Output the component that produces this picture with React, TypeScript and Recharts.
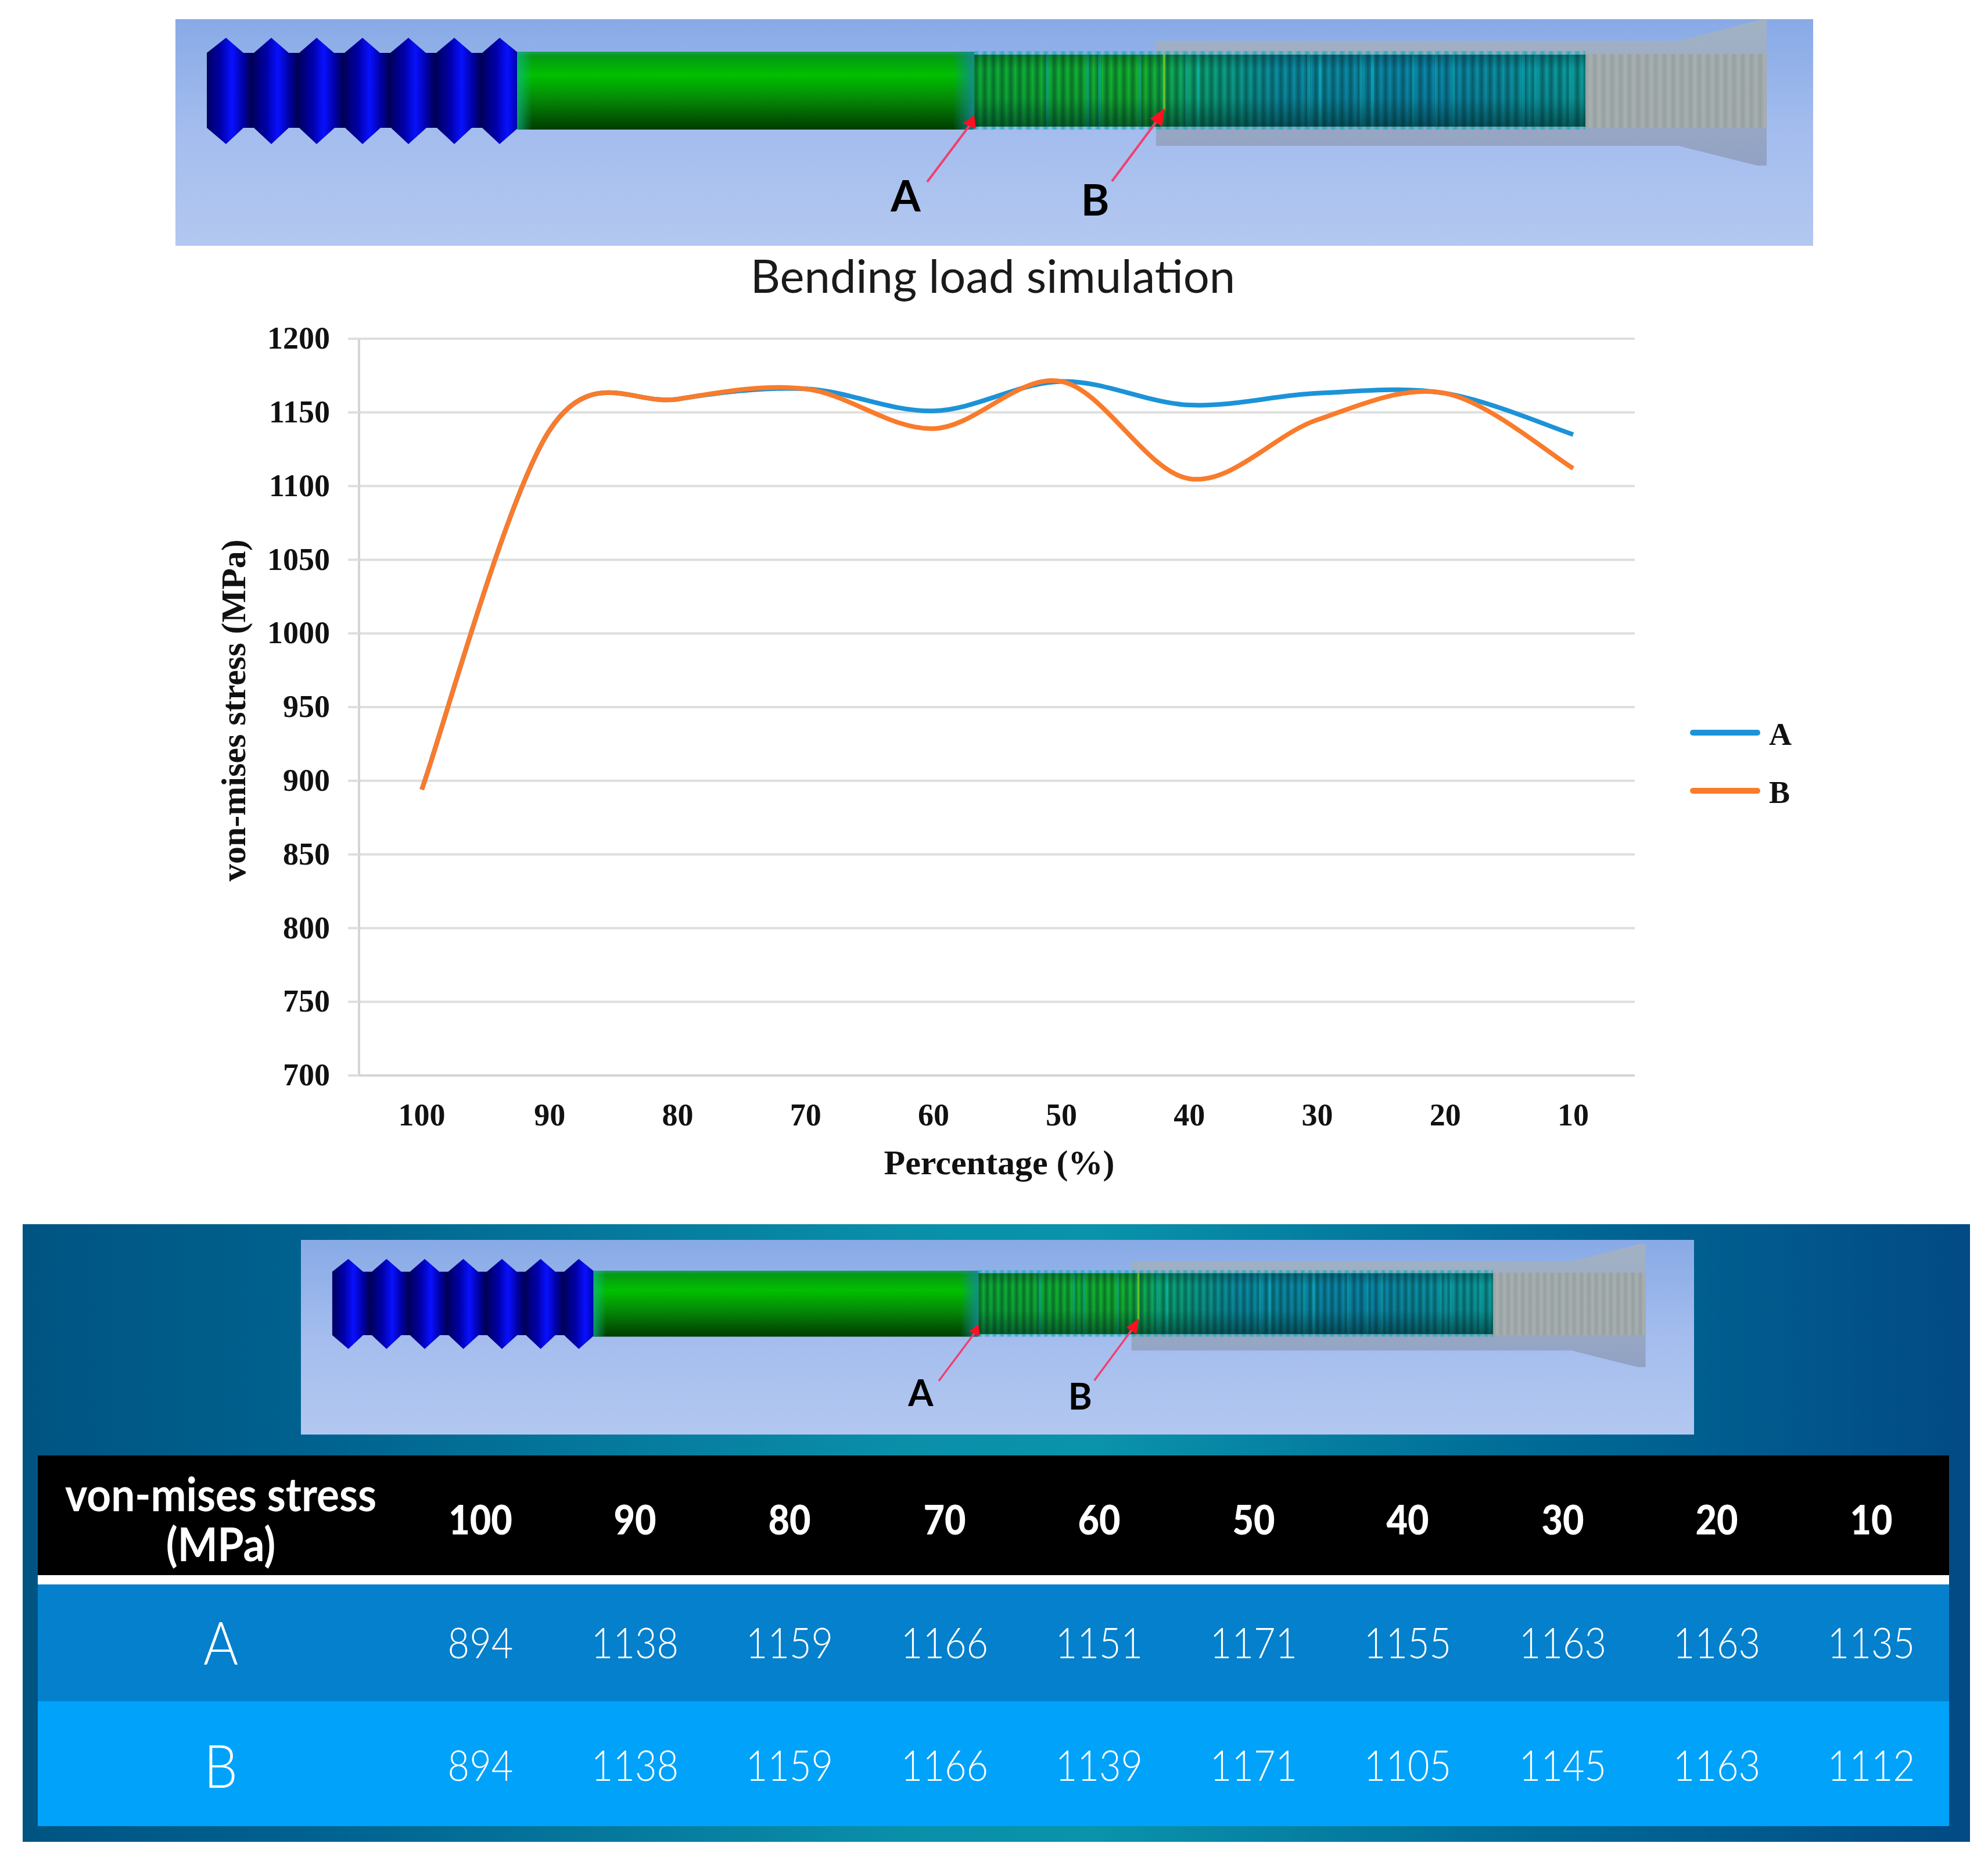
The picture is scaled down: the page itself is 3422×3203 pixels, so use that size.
import React from "react";
import { LineChart, Line, XAxis, YAxis, CartesianGrid, Legend } from "recharts";

const percentages = [100, 90, 80, 70, 60, 50, 40, 30, 20, 10];
const seriesA = [894, 1138, 1159, 1166, 1151, 1171, 1155, 1163, 1163, 1135];
const seriesB = [894, 1138, 1159, 1166, 1139, 1171, 1105, 1145, 1163, 1112];
const yTicks = [700, 750, 800, 850, 900, 950, 1000, 1050, 1100, 1150, 1200];
const chartData = percentages.map((p, i) => ({ p: String(p), A: seriesA[i], B: seriesB[i] }));

const columnCenters = [827, 1093, 1359, 1626, 1892, 2158, 2423, 2690, 2955, 3221];
const streaks = [1800, 1870, 1890, 1960, 2040, 2060, 2250, 2270, 2340, 2360, 2430, 2470, 2500, 2620, 2640, 2700];
const serif = '"Liberation Serif", serif';
const sans = 'Lato, sans-serif';
const inkColor = "#111";

const excelSmooth = (ctx: any) => {
  let pts: number[][] = [];
  return {
    areaStart() {},
    areaEnd() {},
    lineStart() { pts = []; },
    point(x: number, y: number) { pts.push([+x, +y]); },
    lineEnd() {
      if (!pts.length) return;
      ctx.moveTo(pts[0][0], pts[0][1]);
      for (let i = 0; i < pts.length - 1; i++) {
        const p0 = pts[Math.max(0, i - 1)], p1 = pts[i], p2 = pts[i + 1], p3 = pts[Math.min(pts.length - 1, i + 2)];
        ctx.bezierCurveTo(
          p1[0] + (p2[0] - p0[0]) / 6, p1[1] + (p2[1] - p0[1]) / 6,
          p2[0] - (p3[0] - p1[0]) / 6, p2[1] - (p3[1] - p1[1]) / 6,
          p2[0], p2[1]
        );
      }
    },
  };
};

function Banner({ id, left, top, width, height, vb }: { id: string; left: number; top: number; width: number; height: number; vb: number[] }) {
  const peaks = [389, 467, 545, 624, 703, 782, 860];
  const headPts: string[] = ["356,91"];
  peaks.forEach((x, i) => {
    headPts.push(`${x},65`);
    if (i < peaks.length - 1) headPts.push(`${x + 30},91`, `${x + 48},91`);
  });
  headPts.push("892,91", "892,220");
  [...peaks].reverse().forEach((x, i) => {
    headPts.push(`${x},248`);
    if (i < peaks.length - 1) headPts.push(`${x - 30},220`, `${x - 48},220`);
  });
  headPts.push("356,220");
  return (
    <svg viewBox={vb.join(" ")} preserveAspectRatio="none"
      style={{ position: "absolute", left, top, width, height, display: "block" }}>
      <defs>
        <linearGradient id={`${id}bg`} x1="0" y1="0" x2="0" y2="1">
          <stop offset="0" stopColor="#88aae6" />
          <stop offset="0.5" stopColor="#a4bdee" />
          <stop offset="1" stopColor="#b3c8f0" />
        </linearGradient>
        <linearGradient id={`${id}shaft`} x1="0" y1="0" x2="0" y2="1">
          <stop offset="0" stopColor="#1aa050" />
          <stop offset="0.06" stopColor="#049a12" />
          <stop offset="0.3" stopColor="#00c000" />
          <stop offset="0.6" stopColor="#048a06" />
          <stop offset="1" stopColor="#003c00" />
        </linearGradient>
        <linearGradient id={`${id}end`} x1="0" y1="0" x2="1" y2="0">
          <stop offset="0" stopColor="#1488a0" stopOpacity="0" />
          <stop offset="1" stopColor="#1488a0" stopOpacity="0.85" />
        </linearGradient>
        <linearGradient id={`${id}start`} x1="0" y1="0" x2="1" y2="0">
          <stop offset="0" stopColor="#10b890" stopOpacity="0.7" />
          <stop offset="1" stopColor="#10b890" stopOpacity="0" />
        </linearGradient>
        <linearGradient id={`${id}head`} x1="356" y1="0" x2="435" y2="0" gradientUnits="userSpaceOnUse" spreadMethod="repeat">
          <stop offset="0" stopColor="#000060" />
          <stop offset="0.3" stopColor="#0000a8" />
          <stop offset="0.55" stopColor="#0810ff" />
          <stop offset="0.8" stopColor="#0000a0" />
          <stop offset="1" stopColor="#00004a" />
        </linearGradient>
        <linearGradient id={`${id}thread`} x1="1677" y1="0" x2="2729" y2="0" gradientUnits="userSpaceOnUse">
          <stop offset="0" stopColor="#0db038" />
          <stop offset="0.28" stopColor="#14b830" />
          <stop offset="0.36" stopColor="#0cac78" />
          <stop offset="0.5" stopColor="#0c90a8" />
          <stop offset="0.75" stopColor="#0c88b0" />
          <stop offset="1" stopColor="#0ca0a0" />
        </linearGradient>
        <linearGradient id={`${id}stripe`} x1="0" y1="0" x2="15" y2="0" gradientUnits="userSpaceOnUse" spreadMethod="repeat">
          <stop offset="0" stopColor="#00221c" stopOpacity="0.45" />
          <stop offset="0.5" stopColor="#00221c" stopOpacity="0" />
          <stop offset="1" stopColor="#00221c" stopOpacity="0.45" />
        </linearGradient>
        <linearGradient id={`${id}fringe`} x1="0" y1="0" x2="15" y2="0" gradientUnits="userSpaceOnUse" spreadMethod="repeat">
          <stop offset="0" stopColor="#18b0b8" stopOpacity="0.9" />
          <stop offset="0.5" stopColor="#18b0b8" stopOpacity="0" />
          <stop offset="1" stopColor="#18b0b8" stopOpacity="0.9" />
        </linearGradient>
        <linearGradient id={`${id}shade`} x1="0" y1="0" x2="0" y2="1">
          <stop offset="0" stopColor="#002020" stopOpacity="0.3" />
          <stop offset="0.2" stopColor="#002020" stopOpacity="0" />
          <stop offset="0.6" stopColor="#002020" stopOpacity="0.08" />
          <stop offset="1" stopColor="#002020" stopOpacity="0.55" />
        </linearGradient>
        <linearGradient id={`${id}nut`} x1="0" y1="0" x2="0" y2="1">
          <stop offset="0" stopColor="#a8b4bc" stopOpacity="0.8" />
          <stop offset="1" stopColor="#8c9ab8" stopOpacity="0.8" />
        </linearGradient>
      </defs>
      <rect x={vb[0]} y={vb[1]} width={vb[2]} height={vb[3]} fill={`url(#${id}bg)`} />
      <polygon points="1990,70 2889,70 3032,34 3041,34 3041,285 3025,285 2889,251 1990,251" fill={`url(#${id}nut)`} />
      <rect x="2729" y="93" width="312" height="127" fill="#a9b0b2" />
      <rect x="2729" y="93" width="312" height="127" fill={`url(#${id}stripe)`} opacity="0.25" />
      <polygon points={headPts.join(" ")} fill={`url(#${id}head)`} />
      <rect x="890" y="89" width="787" height="134" fill={`url(#${id}shaft)`} />
      <rect x="1640" y="89" width="37" height="134" fill={`url(#${id}end)`} />
      <rect x="890" y="89" width="26" height="134" fill={`url(#${id}start)`} />
      <rect x="1677" y="94" width="1052" height="124" fill={`url(#${id}thread)`} />
      <rect x="1677" y="94" width="1052" height="124" fill={`url(#${id}stripe)`} />
      {streaks.map((x) => <rect key={x} x={x} y="94" width="5" height="124" fill="#10c0c8" opacity="0.45" />)}
      <rect x="1677" y="94" width="1052" height="124" fill={`url(#${id}shade)`} />
      <rect x="1677" y="88" width="1052" height="6" fill={`url(#${id}fringe)`} />
      <rect x="1677" y="218" width="1052" height="5" fill={`url(#${id}fringe)`} />
      <line x1="2004" y1="94" x2="2004" y2="190" stroke="#7cc820" strokeWidth="4" opacity="0.8" />
      <line x1="1596" y1="313" x2="1672" y2="212" stroke="#f04070" strokeWidth="4" />
      <polygon points="1677,198 1680,222 1658,212" fill="#ff1020" />
      <line x1="1914" y1="312" x2="1990" y2="210" stroke="#f04070" strokeWidth="4" />
      <polygon points="2005,186 2000,218 1980,204" fill="#ff1020" />
      <text x="1559" y="364" textAnchor="middle" fontFamily={sans} fontWeight={700} fontSize={74} fill="#000">A</text>
      <text x="1885" y="371" textAnchor="middle" fontFamily={sans} fontWeight={700} fontSize={74} fill="#000">B</text>
    </svg>
  );
}

function Cell({ x, y, text, size, weight }: { x: number; y: number; text: string | number; size: number; weight: number }) {
  return (
    <div style={{
      position: "absolute", left: x - 300, top: y - 40, width: 600, height: 80, lineHeight: "80px",
      textAlign: "center", color: "#fff", fontFamily: sans, fontSize: size, fontWeight: weight,
      whiteSpace: "nowrap", transform: "scaleX(0.9)",
    }}>{text}</div>
  );
}

function LegendContent({ payload }: any) {
  return (
    <div style={{ position: "relative", width: 200, height: 180 }}>
      {(payload || []).map((e: any, i: number) => (
        <React.Fragment key={e.value}>
          <div style={{ position: "absolute", left: 2, top: i * 100 - 5, width: 121, height: 10, borderRadius: 5, background: e.color }} />
          <div style={{ position: "absolute", left: 138, top: i * 100 - 27, lineHeight: "60px", fontFamily: serif, fontWeight: 700, fontSize: 54, color: inkColor }}>{e.value}</div>
        </React.Fragment>
      ))}
    </div>
  );
}

export default function App() {
  return (
    <div style={{ position: "absolute", left: 0, top: 0, width: 3422, height: 3203, background: "#fff", overflow: "hidden" }}>
      <Banner id="top" left={302} top={33} width={2819} height={390} vb={[302, 33, 2819, 390]} />
      <div style={{ position: "absolute", left: 1209, width: 1000, top: 424, height: 100, lineHeight: "100px", textAlign: "center", fontFamily: sans, fontSize: 79.5, color: "#1a1a1a" }}>
        Bending load simulation
      </div>
      <div style={{ position: "absolute", left: 300, top: 500 }}>
        <LineChart width={2900} height={1560} data={chartData} margin={{ top: 83, right: 386, bottom: 0, left: 0 }}>
          <CartesianGrid vertical={false} stroke="#dedede" strokeWidth={4} />
          <XAxis dataKey="p" height={209} padding={{ left: 108, right: 106 }} tickLine={false} axisLine={{ stroke: "#d4d4d4", strokeWidth: 4 }} tickMargin={42} interval={0}
            tick={{ fontFamily: serif, fontWeight: 700, fontSize: 54, fill: inkColor }}
            label={{ value: "Percentage (%)", position: "insideBottom", dx: 4, dy: -34, style: { fontFamily: serif, fontWeight: 700, fontSize: 60, fill: inkColor } }} />
          <YAxis width={318} domain={[700, 1200]} ticks={yTicks} interval={0} tickSize={19} tickMargin={31}
            tickLine={{ stroke: "#dedede", strokeWidth: 4 }} axisLine={{ stroke: "#d4d4d4", strokeWidth: 4 }}
            tick={{ fontFamily: serif, fontWeight: 700, fontSize: 54, fill: inkColor, dy: -2 }}
            label={{ value: "von-mises stress (MPa)", angle: -90, position: "insideLeft", dx: 96, dy: 300, style: { fontFamily: serif, fontWeight: 700, fontSize: 60, fill: inkColor, textAnchor: "start" } }} />
          <Legend layout="vertical" align="center" verticalAlign="middle" content={LegendContent as any}
            wrapperStyle={{ position: "absolute", left: 2607, top: 761, width: 200 }} />
          <Line dataKey="A" stroke="#1c93d8" strokeWidth={8} dot={false} type={excelSmooth as any} isAnimationActive={false} />
          <Line dataKey="B" stroke="#f97b2b" strokeWidth={8} dot={false} type={excelSmooth as any} isAnimationActive={false} />
        </LineChart>
      </div>

      <div style={{ position: "absolute", left: 39, top: 2107, width: 3352, height: 1063,
        background: "linear-gradient(90deg,#005482 0%,#00628f 15%,#0a8fa9 45%,#0a93ab 55%,#006a96 78%,#024a84 100%)" }} />
      <Banner id="low" left={518} top={2134} width={2398} height={335} vb={[292, 26.4, 2848, 395.5]} />
      <div style={{ position: "absolute", left: 65, top: 2505, width: 3290, height: 206, background: "#000" }} />
      <div style={{ position: "absolute", left: 65, top: 2711, width: 3290, height: 16, background: "#fff" }} />
      <div style={{ position: "absolute", left: 65, top: 2727, width: 3290, height: 201, background: "#0480cc" }} />
      <div style={{ position: "absolute", left: 65, top: 2928, width: 3290, height: 215, background: "#00a2fa" }} />
      <div style={{ position: "absolute", left: 80, top: 2527, width: 600, lineHeight: "86px", textAlign: "center", color: "#fff",
        fontFamily: sans, fontSize: 81, fontWeight: 700, whiteSpace: "nowrap", transform: "scaleX(0.9)" }}>
        von-mises stress<br />(MPa)
      </div>
      <Cell x={380} y={2826} text="A" size={102} weight={300} />
      <Cell x={380} y={3038} text="B" size={102} weight={300} />
      {percentages.map((p, i) => <Cell key={p} x={columnCenters[i]} y={2614} text={p} size={70} weight={900} />)}
      {seriesA.map((v, i) => <Cell key={i} x={columnCenters[i]} y={2826} text={v} size={72} weight={300} />)}
      {seriesB.map((v, i) => <Cell key={i} x={columnCenters[i]} y={3037} text={v} size={72} weight={300} />)}
    </div>
  );
}
